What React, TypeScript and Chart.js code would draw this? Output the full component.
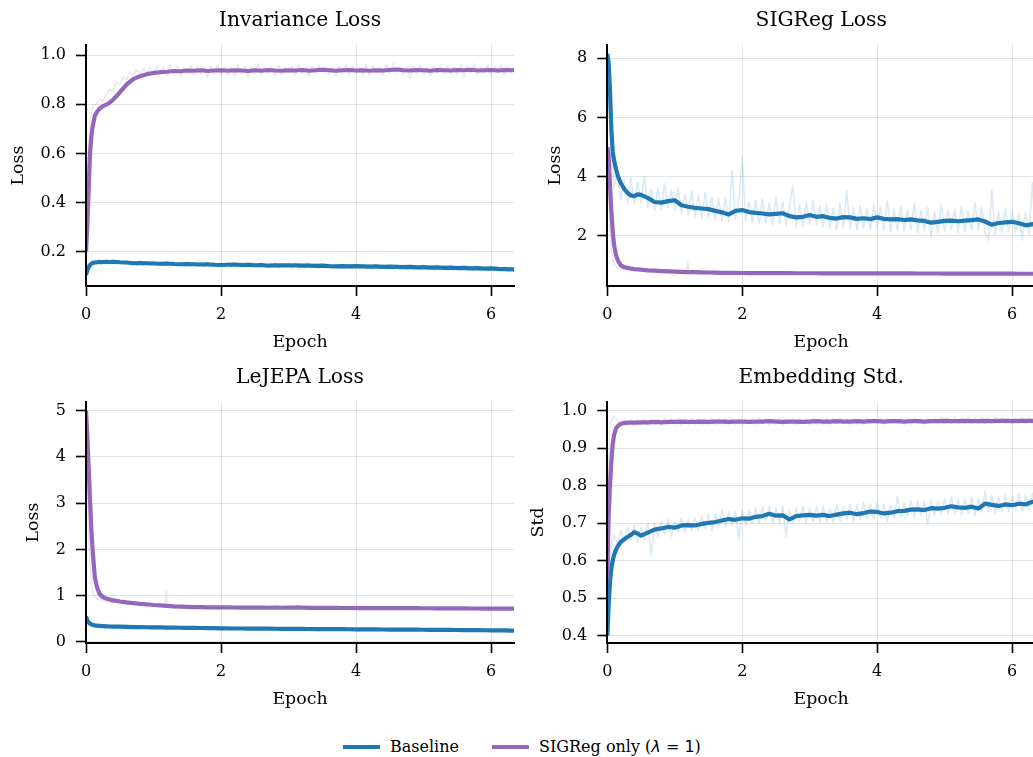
import { useEffect, useRef } from 'react';
import { Chart, registerables } from 'chart.js';

Chart.register(...registerables);

// ---------- colours / fonts ----------
const BLUE = '#1f77b4';
const PURPLE = '#9467bd';
const BLUE_RAW = 'rgba(31,119,180,0.16)';
const PURPLE_RAW = 'rgba(148,103,189,0.17)';
const GRID = 'rgba(160,170,185,0.32)';
const FONT = "'DejaVu Serif', serif";

// ---------- axes ----------
const X_TICKS = [0, 2, 4, 6];
const INV_TICKS = [0.2, 0.4, 0.6, 0.8, 1.0];
const SIG_TICKS = [2, 4, 6, 8];
const LEJ_TICKS = [0, 1, 2, 3, 4, 5];
const EMB_TICKS = [0.4, 0.5, 0.6, 0.7, 0.8, 0.9, 1.0];

// ---------- epochs ----------
// smoothed curves
const SX = [
  0, 0.02, 0.04, 0.06, 0.08, 0.1, 0.13, 0.16, 0.2, 0.25, 0.3, 0.35, 0.4, 0.45, 0.5,
  0.6, 0.7, 0.8, 0.9, 1.0,
  1.1, 1.2, 1.3, 1.4, 1.5, 1.6, 1.7, 1.8, 1.9, 2.0,
  2.1, 2.2, 2.3, 2.4, 2.5, 2.6, 2.7, 2.8, 2.9, 3.0,
  3.1, 3.2, 3.3, 3.4, 3.5, 3.6, 3.7, 3.8, 3.9, 4.0,
  4.1, 4.2, 4.3, 4.4, 4.5, 4.6, 4.7, 4.8, 4.9, 5.0,
  5.1, 5.2, 5.3, 5.4, 5.5, 5.6, 5.7, 5.8, 5.9, 6.0,
  6.1, 6.2, 6.3,
  6.34,
];
// raw (noisy) curves
const RX = [
  0, 0.02, 0.04, 0.06, 0.08, 0.1,
  0.15, 0.2, 0.25, 0.3, 0.35, 0.4, 0.45, 0.5, 0.55, 0.6, 0.65, 0.7, 0.75, 0.8, 0.85, 0.9, 0.95,
  1, 1.05, 1.1, 1.15, 1.2, 1.25, 1.3, 1.35, 1.4, 1.45, 1.5, 1.55, 1.6, 1.65, 1.7, 1.75, 1.8, 1.85, 1.9, 1.95,
  2, 2.05, 2.1, 2.15, 2.2, 2.25, 2.3, 2.35, 2.4, 2.45, 2.5, 2.55, 2.6, 2.65, 2.7, 2.75, 2.8, 2.85, 2.9, 2.95,
  3, 3.05, 3.1, 3.15, 3.2, 3.25, 3.3, 3.35, 3.4, 3.45, 3.5, 3.55, 3.6, 3.65, 3.7, 3.75, 3.8, 3.85, 3.9, 3.95,
  4, 4.05, 4.1, 4.15, 4.2, 4.25, 4.3, 4.35, 4.4, 4.45, 4.5, 4.55, 4.6, 4.65, 4.7, 4.75, 4.8, 4.85, 4.9, 4.95,
  5, 5.05, 5.1, 5.15, 5.2, 5.25, 5.3, 5.35, 5.4, 5.45, 5.5, 5.55, 5.6, 5.65, 5.7, 5.75, 5.8, 5.85, 5.9, 5.95,
  6, 6.05, 6.1, 6.15, 6.2, 6.25, 6.3,
  6.34,
];
// raw curves of the quiet series
const EX = [0, 0.02, 0.04, 0.06, 0.08, 0.1, 0.12, 0.15, 0.2, 0.25, 0.3, 0.4, 0.5, 0.7, 0.9, 1.1, 1.17, 1.19, 1.21, 1.3, 1.6, 2, 2.5, 3, 3.5, 4, 4.5, 5, 5.5, 6, 6.34];

// ---------- Invariance Loss ----------
const INV_SIG_S = [
  0.2, 0.31, 0.46, 0.6, 0.67, 0.71, 0.752, 0.767, 0.782, 0.792, 0.798, 0.806, 0.818, 0.832, 0.848,
  0.88, 0.902, 0.914, 0.922, 0.927,
  0.93, 0.932, 0.935, 0.934, 0.937, 0.936, 0.938, 0.935, 0.937, 0.938,
  0.936, 0.938, 0.937, 0.935, 0.938, 0.936, 0.939, 0.937, 0.936, 0.938,
  0.937, 0.939, 0.936, 0.938, 0.94, 0.938, 0.936, 0.938, 0.939, 0.937,
  0.938, 0.936, 0.938, 0.937, 0.939, 0.941, 0.938, 0.937, 0.939, 0.938,
  0.936, 0.939, 0.938, 0.937, 0.939, 0.938, 0.94, 0.937, 0.938, 0.939,
  0.937, 0.939, 0.938,
  0.939,
];
const INV_BASE_S = [
  0.105, 0.125, 0.138, 0.146, 0.151, 0.154, 0.156, 0.157, 0.158, 0.158, 0.159, 0.158, 0.159, 0.158, 0.157,
  0.156, 0.153, 0.154, 0.153, 0.152,
  0.151, 0.152, 0.15, 0.149, 0.15, 0.149, 0.148, 0.149, 0.147, 0.146,
  0.147, 0.148, 0.146, 0.147, 0.145, 0.146, 0.143, 0.145, 0.144, 0.145,
  0.144, 0.143, 0.144, 0.142, 0.143, 0.141, 0.14, 0.141, 0.14, 0.141,
  0.14, 0.139, 0.14, 0.138, 0.139, 0.138, 0.137, 0.138, 0.136, 0.137,
  0.135, 0.136, 0.134, 0.135, 0.133, 0.134, 0.132, 0.133, 0.131, 0.132,
  0.13, 0.129, 0.128,
  0.128,
];
const INV_SIG_R = [
  0.2, 0.45, 0.62, 0.72, 0.76, 0.79,
  0.8, 0.82, 0.81, 0.84, 0.86, 0.85, 0.89, 0.88, 0.91, 0.9, 0.93, 0.915, 0.94, 0.92, 0.945, 0.925, 0.95,
  0.92, 0.955, 0.925, 0.95, 0.92, 0.96, 0.925, 0.955, 0.915, 0.95, 0.925, 0.96, 0.92, 0.955, 0.925, 0.95, 0.91, 0.955, 0.925, 0.96,
  0.92, 0.955, 0.92, 0.95, 0.915, 0.96, 0.925, 0.955, 0.91, 0.95, 0.925, 0.965, 0.92, 0.95, 0.925, 0.955, 0.915, 0.96, 0.92, 0.95,
  0.925, 0.955, 0.92, 0.96, 0.925, 0.95, 0.915, 0.955, 0.925, 0.96, 0.93, 0.955, 0.92, 0.95, 0.915, 0.955, 0.925, 0.96, 0.92, 0.955,
  0.925, 0.95, 0.92, 0.96, 0.915, 0.955, 0.925, 0.95, 0.92, 0.96, 0.925, 0.965, 0.925, 0.955, 0.92, 0.95, 0.905, 0.955, 0.925, 0.96,
  0.92, 0.95, 0.915, 0.955, 0.925, 0.96, 0.92, 0.955, 0.925, 0.95, 0.92, 0.96, 0.91, 0.955, 0.925, 0.965, 0.92, 0.95, 0.925, 0.96,
  0.915, 0.955, 0.925, 0.96, 0.92, 0.955, 0.925,
  0.95,
];
const INV_BASE_R = [
  0.1, 0.14, 0.15, 0.155, 0.16, 0.165,
  0.15, 0.168, 0.152, 0.166, 0.15, 0.168, 0.15, 0.165, 0.148, 0.164, 0.146, 0.162, 0.146, 0.163, 0.145, 0.161, 0.144,
  0.162, 0.143, 0.16, 0.143, 0.161, 0.142, 0.159, 0.141, 0.158, 0.14, 0.159, 0.141, 0.157, 0.139, 0.158, 0.138, 0.157, 0.139, 0.156, 0.137,
  0.155, 0.138, 0.157, 0.137, 0.156, 0.138, 0.155, 0.136, 0.156, 0.135, 0.154, 0.136, 0.155, 0.134, 0.152, 0.135, 0.154, 0.134, 0.153, 0.135,
  0.154, 0.134, 0.153, 0.133, 0.152, 0.134, 0.153, 0.132, 0.151, 0.133, 0.152, 0.131, 0.15, 0.131, 0.149, 0.132, 0.15, 0.13, 0.149, 0.131,
  0.15, 0.13, 0.149, 0.13, 0.148, 0.13, 0.149, 0.128, 0.147, 0.129, 0.148, 0.128, 0.147, 0.128, 0.146, 0.127, 0.147, 0.127, 0.145, 0.126,
  0.146, 0.126, 0.144, 0.125, 0.145, 0.125, 0.143, 0.124, 0.144, 0.124, 0.142, 0.123, 0.143, 0.122, 0.141, 0.122, 0.142, 0.121, 0.14, 0.121,
  0.141, 0.12, 0.139, 0.12, 0.138, 0.119, 0.137,
  0.12,
];

// ---------- SIGReg Loss ----------
const SIG_BASE_S = [
  8.15, 7.85, 6.9, 5.6, 4.85, 4.55, 4.25, 4.0, 3.78, 3.58, 3.45, 3.36, 3.34, 3.4, 3.38,
  3.28, 3.14, 3.12, 3.17, 3.2,
  3.03, 2.98, 2.94, 2.92, 2.9, 2.84, 2.79, 2.72, 2.84, 2.87,
  2.8, 2.77, 2.75, 2.72, 2.74, 2.76, 2.66, 2.62, 2.64, 2.7,
  2.64, 2.66, 2.6, 2.58, 2.63, 2.62, 2.57, 2.59, 2.56, 2.62,
  2.57, 2.55, 2.56, 2.53, 2.55, 2.52, 2.5, 2.44, 2.47, 2.5,
  2.51, 2.49, 2.51, 2.53, 2.55, 2.48, 2.37, 2.43, 2.45, 2.47,
  2.42, 2.35, 2.39,
  2.38,
];
const SIG_SIG_S = [
  5.0, 4.7, 3.7, 2.85, 2.15, 1.7, 1.33, 1.15, 1.0, 0.94, 0.91, 0.89, 0.87, 0.86, 0.85,
  0.83, 0.82, 0.805, 0.795, 0.785,
  0.775, 0.77, 0.765, 0.76, 0.755, 0.75, 0.745, 0.742, 0.74, 0.738,
  0.737, 0.736, 0.735, 0.734, 0.733, 0.733, 0.732, 0.731, 0.731, 0.73,
  0.73, 0.729, 0.729, 0.728, 0.728, 0.727, 0.727, 0.726, 0.726, 0.725,
  0.725, 0.724, 0.724, 0.723, 0.723, 0.722, 0.722, 0.721, 0.721, 0.72,
  0.72, 0.719, 0.719, 0.718, 0.718, 0.717, 0.717, 0.716, 0.716, 0.715,
  0.714, 0.714, 0.713,
  0.713,
];
const SIG_BASE_R = [
  8.2, 7.2, 5.9, 4.3, 4.45, 3.6,
  4.1, 3.2, 3.9, 3.1, 3.95, 3.05, 3.8, 3.1, 4.0, 2.95, 3.55, 2.85, 3.6, 2.9, 3.75, 2.95, 3.55,
  2.9, 3.6, 2.75, 3.4, 2.7, 3.5, 2.65, 3.35, 2.6, 3.45, 2.6, 3.3, 2.55, 3.25, 2.5, 3.3, 2.45, 4.2, 2.55, 3.2,
  4.65, 2.5, 3.15, 2.45, 3.2, 2.4, 3.25, 2.45, 3.1, 2.35, 3.3, 2.4, 3.15, 2.35, 3.0, 3.7, 2.3, 3.05, 2.3, 3.1,
  2.4, 3.2, 2.35, 3.0, 2.3, 3.05, 2.25, 2.95, 2.2, 3.1, 2.3, 3.5, 2.25, 2.95, 2.2, 3.0, 2.25, 2.9, 2.2, 3.05,
  2.3, 2.95, 2.2, 3.2, 2.15, 2.9, 2.2, 3.0, 2.15, 2.85, 2.2, 3.1, 2.1, 2.85, 2.15, 2.95, 1.95, 2.8, 2.1, 3.05,
  2.15, 2.85, 2.2, 2.9, 2.1, 3.0, 2.15, 2.85, 2.2, 3.1, 2.2, 2.95, 2.1, 1.85, 3.55, 2.05, 2.8, 2.1, 2.9, 2.15,
  2.85, 2.1, 2.75, 1.85, 2.8, 2.05, 3.8,
  2.2,
];
const SIG_SIG_R = [5.0, 3.5, 2.2, 1.5, 1.2, 1.05, 0.97, 0.92, 0.88, 0.86, 0.85, 0.84, 0.83, 0.81, 0.79, 0.775, 0.77, 1.12, 0.77, 0.765, 0.75, 0.738, 0.733, 0.73, 0.728, 0.725, 0.722, 0.72, 0.718, 0.715, 0.713];

// ---------- LeJEPA Loss ----------
const LEJ_SIG_S = [
  5.0, 4.45, 3.75, 3.07, 2.4, 1.95, 1.41, 1.2, 1.04, 0.97, 0.94, 0.92, 0.9, 0.89, 0.875,
  0.855, 0.84, 0.825, 0.815, 0.8,
  0.79, 0.78, 0.77, 0.765, 0.76, 0.755, 0.752, 0.75, 0.748, 0.747,
  0.746, 0.745, 0.744, 0.743, 0.742, 0.741, 0.74, 0.741, 0.74, 0.742,
  0.746, 0.743, 0.739, 0.738, 0.737, 0.736, 0.736, 0.735, 0.735, 0.734,
  0.734, 0.733, 0.733, 0.732, 0.732, 0.731, 0.731, 0.73, 0.73, 0.729,
  0.729, 0.728, 0.727, 0.727, 0.726, 0.725, 0.724, 0.724, 0.723, 0.722,
  0.722, 0.721, 0.72,
  0.72,
];
const LEJ_BASE_S = [
  0.55, 0.47, 0.42, 0.395, 0.38, 0.37, 0.36, 0.352, 0.347, 0.342, 0.338, 0.335, 0.333, 0.331, 0.33,
  0.327, 0.322, 0.32, 0.318, 0.316,
  0.314, 0.312, 0.31, 0.308, 0.306, 0.304, 0.302, 0.3, 0.298, 0.296,
  0.294, 0.292, 0.291, 0.29, 0.289, 0.288, 0.287, 0.286, 0.285, 0.284,
  0.283, 0.282, 0.281, 0.28, 0.279, 0.278, 0.277, 0.276, 0.275, 0.274,
  0.273, 0.272, 0.271, 0.27, 0.269, 0.268, 0.267, 0.266, 0.265, 0.264,
  0.263, 0.262, 0.261, 0.26, 0.259, 0.258, 0.256, 0.255, 0.254, 0.252,
  0.25, 0.249, 0.247,
  0.246,
];
const LEJ_SIG_R = [5.0, 3.6, 2.4, 1.6, 1.25, 1.1, 1.0, 0.95, 0.92, 0.9, 0.88, 0.86, 0.85, 0.83, 0.81, 0.79, 0.785, 1.1, 0.785, 0.77, 0.755, 0.745, 0.742, 0.74, 0.737, 0.734, 0.732, 0.729, 0.726, 0.722, 0.72];
const LEJ_BASE_R = [0.55, 0.42, 0.38, 0.36, 0.35, 0.345, 0.34, 0.338, 0.336, 0.334, 0.332, 0.33, 0.328, 0.322, 0.318, 0.314, 0.313, 0.313, 0.312, 0.31, 0.305, 0.296, 0.289, 0.284, 0.279, 0.274, 0.269, 0.264, 0.259, 0.252, 0.246];

// ---------- Embedding Std. ----------
const EMB_SIG_S = [
  0.55, 0.72, 0.8, 0.865, 0.91, 0.935, 0.953, 0.96, 0.965, 0.967, 0.968, 0.968, 0.968, 0.968, 0.969,
  0.969, 0.97, 0.969, 0.97, 0.97,
  0.971, 0.97, 0.97, 0.971, 0.97, 0.971, 0.971, 0.97, 0.971, 0.971,
  0.97, 0.971, 0.971, 0.972, 0.971, 0.97, 0.971, 0.971, 0.97, 0.971,
  0.972, 0.971, 0.971, 0.972, 0.971, 0.971, 0.972, 0.971, 0.972, 0.972,
  0.971, 0.972, 0.972, 0.971, 0.972, 0.972, 0.971, 0.972, 0.972, 0.973,
  0.972, 0.972, 0.973, 0.972, 0.972, 0.973, 0.972, 0.973, 0.973, 0.972,
  0.973, 0.973, 0.973,
  0.973,
];
const EMB_BASE_S = [
  0.4, 0.48, 0.545, 0.578, 0.6, 0.615, 0.63, 0.64, 0.65, 0.657, 0.663, 0.669, 0.676, 0.672, 0.667,
  0.675, 0.683, 0.686, 0.69, 0.688,
  0.694, 0.695, 0.694, 0.698, 0.701, 0.703, 0.707, 0.711, 0.709, 0.713,
  0.712, 0.717, 0.719, 0.725, 0.72, 0.721, 0.71, 0.719, 0.721, 0.722,
  0.72, 0.722, 0.719, 0.723, 0.726, 0.728, 0.724, 0.727, 0.731, 0.73,
  0.726, 0.728, 0.732, 0.733, 0.736, 0.737, 0.735, 0.74, 0.739, 0.741,
  0.745, 0.742, 0.741, 0.744, 0.739, 0.752, 0.749, 0.746, 0.75, 0.748,
  0.752, 0.75, 0.757,
  0.755,
];
const EMB_SIG_R = [
  0.55, 0.88, 0.95, 0.975, 0.98, 0.985,
  0.975, 0.962, 0.976, 0.96, 0.977, 0.961, 0.978, 0.962, 0.977, 0.961, 0.978, 0.963, 0.977, 0.962, 0.979, 0.962, 0.978,
  0.963, 0.978, 0.962, 0.979, 0.963, 0.978, 0.962, 0.979, 0.963, 0.978, 0.962, 0.98, 0.963, 0.978, 0.963, 0.979, 0.962, 0.978, 0.964, 0.979,
  0.963, 0.978, 0.964, 0.979, 0.963, 0.98, 0.964, 0.979, 0.963, 0.978, 0.964, 0.98, 0.963, 0.979, 0.964, 0.978, 0.963, 0.98, 0.964, 0.979,
  0.963, 0.98, 0.964, 0.979, 0.964, 0.98, 0.963, 0.979, 0.965, 0.98, 0.964, 0.979, 0.963, 0.981, 0.964, 0.979, 0.965, 0.98, 0.964, 0.979,
  0.965, 0.98, 0.964, 0.981, 0.965, 0.979, 0.964, 0.98, 0.965, 0.981, 0.964, 0.98, 0.965, 0.979, 0.964, 0.981, 0.965, 0.98, 0.964, 0.981,
  0.965, 0.98, 0.966, 0.981, 0.965, 0.98, 0.966, 0.982, 0.965, 0.98, 0.966, 0.981, 0.965, 0.98, 0.966, 0.982, 0.965, 0.981, 0.966, 0.98,
  0.965, 0.981, 0.966, 0.982, 0.965, 0.981, 0.966,
  0.98,
];
const EMB_BASE_R = [
  0.4, 0.55, 0.62, 0.64, 0.66, 0.67,
  0.645, 0.68, 0.65, 0.69, 0.655, 0.695, 0.65, 0.69, 0.655, 0.7, 0.615, 0.7, 0.665, 0.705, 0.67, 0.71, 0.665,
  0.705, 0.675, 0.715, 0.675, 0.71, 0.68, 0.715, 0.68, 0.72, 0.685, 0.725, 0.68, 0.725, 0.69, 0.735, 0.69, 0.73, 0.695, 0.73, 0.66,
  0.735, 0.695, 0.735, 0.7, 0.74, 0.7, 0.745, 0.705, 0.745, 0.7, 0.74, 0.7, 0.745, 0.665, 0.735, 0.7, 0.74, 0.705, 0.745, 0.7,
  0.74, 0.705, 0.745, 0.7, 0.745, 0.705, 0.74, 0.7, 0.75, 0.705, 0.745, 0.71, 0.75, 0.705, 0.75, 0.71, 0.755, 0.71, 0.75, 0.71,
  0.755, 0.715, 0.75, 0.705, 0.75, 0.715, 0.77, 0.715, 0.755, 0.72, 0.76, 0.715, 0.76, 0.72, 0.76, 0.695, 0.765, 0.72, 0.76, 0.725,
  0.765, 0.725, 0.77, 0.725, 0.765, 0.72, 0.765, 0.725, 0.77, 0.72, 0.765, 0.73, 0.785, 0.73, 0.775, 0.725, 0.77, 0.73, 0.775, 0.73,
  0.77, 0.735, 0.78, 0.73, 0.775, 0.735, 0.78,
  0.74,
];

// ---------- panels ----------
type Series = [number[], number[]];
interface Panel {
  title: string; yLabel: string; yMin: number; yMax: number; yTicks: number[]; dec: number;
  left: number; top: number; width: number; yAxisWidth: number; rightPad: number; yTitlePad: number;
  baseS: Series; sigS: Series; baseR: Series; sigR: Series;
}
const W_L = 517, W_R = 520, H = 357, X_MAX = 6.34;

const PANELS: Panel[] = [
  { title: 'Invariance Loss', yLabel: 'Loss', yMin: 0.0605, yMax: 1.0407, yTicks: INV_TICKS, dec: 1,
    left: 0, top: 0, width: W_L, yAxisWidth: 86, rightPad: 3, yTitlePad: 7.9,
    baseS: [SX, INV_BASE_S], sigS: [SX, INV_SIG_S], baseR: [RX, INV_BASE_R], sigR: [RX, INV_SIG_R] },
  { title: 'SIGReg Loss', yLabel: 'Loss', yMin: 0.299, yMax: 8.45, yTicks: SIG_TICKS, dec: 0,
    left: 520, top: 0, width: W_R, yAxisWidth: 87.3, rightPad: 5, yTitlePad: 24.6,
    baseS: [SX, SIG_BASE_S], sigS: [SX, SIG_SIG_S], baseR: [RX, SIG_BASE_R], sigR: [EX, SIG_SIG_R] },
  { title: 'LeJEPA Loss', yLabel: 'Loss', yMin: -0.022, yMax: 5.188, yTicks: LEJ_TICKS, dec: 0,
    left: 0, top: 357, width: W_L, yAxisWidth: 86, rightPad: 3, yTitlePad: 23.3,
    baseS: [SX, LEJ_BASE_S], sigS: [SX, LEJ_SIG_S], baseR: [EX, LEJ_BASE_R], sigR: [EX, LEJ_SIG_R] },
  { title: 'Embedding Std.', yLabel: 'Std', yMin: 0.3805, yMax: 1.0232, yTicks: EMB_TICKS, dec: 1,
    left: 520, top: 357, width: W_R, yAxisWidth: 87.3, rightPad: 5, yTitlePad: 8.4,
    baseS: [SX, EMB_BASE_S], sigS: [SX, EMB_SIG_S], baseR: [RX, EMB_BASE_R], sigR: [RX, EMB_SIG_R] },
];

const pts = (s: Series) => {
  const n = Math.min(s[0].length, s[1].length);
  const out: { x: number; y: number }[] = [];
  for (let i = 0; i < n; i++) out.push({ x: s[0][i], y: s[1][i] });
  return out;
};

function buildConfig(p: Panel): any {
  const tickFont = { family: FONT, size: 16 };
  const labelFont = { family: FONT, size: 17.4 };
  const common = { pointRadius: 0, pointHoverRadius: 0, tension: 0, fill: false, borderJoinStyle: 'round', borderCapStyle: 'butt' };
  return {
    type: 'line',
    data: {
      datasets: [
        { ...common, data: pts(p.sigS), borderColor: PURPLE, borderWidth: 4.2, order: 1 },
        { ...common, data: pts(p.baseS), borderColor: BLUE, borderWidth: 4.2, order: 2 },
        { ...common, data: pts(p.sigR), borderColor: PURPLE_RAW, borderWidth: 1.6, order: 3 },
        { ...common, data: pts(p.baseR), borderColor: BLUE_RAW, borderWidth: 1.6, order: 4 },
      ],
    },
    options: {
      animation: false,
      responsive: false,
      maintainAspectRatio: false,
      events: [],
      layout: { padding: { left: 0, right: p.rightPad, top: 0, bottom: 0 } },
      plugins: {
        legend: { display: false },
        tooltip: { enabled: false },
        title: {
          display: true, text: p.title, fullSize: false, color: '#000',
          font: { family: FONT, size: 20.3, weight: 'normal', lineHeight: 1.2 },
          padding: { top: 9, bottom: 11.64 },
        },
      },
      scales: {
        x: {
          type: 'linear', min: 0, max: X_MAX,
          afterBuildTicks: (s: any) => { s.ticks = X_TICKS.map((v) => ({ value: v })); },
          afterFit: (s: any) => { s.height = 71; },
          grid: { color: GRID, lineWidth: 1, tickColor: '#000', tickLength: 10, tickWidth: 1.6 },
          border: { display: true, color: '#000', width: 2, z: 1 },
          ticks: { color: '#000', font: tickFont, padding: 9, maxRotation: 0, autoSkip: false, callback: (v: number) => String(v) },
          title: { display: true, text: 'Epoch', color: '#000', font: labelFont, padding: { top: 0, bottom: 3.8 } },
        },
        y: {
          type: 'linear', min: p.yMin, max: p.yMax,
          afterBuildTicks: (s: any) => { s.ticks = p.yTicks.map((v) => ({ value: v })); },
          afterFit: (s: any) => { s.width = p.yAxisWidth; },
          grid: { color: GRID, lineWidth: 1, tickColor: '#000', tickLength: 10, tickWidth: 1.6 },
          border: { display: true, color: '#000', width: 2, z: 1 },
          ticks: { color: '#000', font: tickFont, padding: 10, autoSkip: false, callback: (v: number) => v.toFixed(p.dec) },
          title: { display: true, text: p.yLabel, color: '#000', font: labelFont, padding: { top: p.yTitlePad, bottom: 0 } },
        },
      },
    },
  };
}

export default function App() {
  const canvases = useRef<(HTMLCanvasElement | null)[]>([]);

  useEffect(() => {
    const charts = PANELS.map((p, i) => new Chart(canvases.current[i] as HTMLCanvasElement, buildConfig(p)));
    return () => charts.forEach((c) => c.destroy());
  }, []);

  return (
    <div style={{ position: 'fixed', left: 0, top: 0, width: 1033, height: 757, overflow: 'hidden', background: '#fff' }}>
      {PANELS.map((p, i) => (
        <canvas
          key={p.title}
          ref={(el) => { canvases.current[i] = el; }}
          width={p.width}
          height={H}
          style={{ position: 'absolute', left: p.left, top: p.top, width: p.width, height: H }}
        />
      ))}
      <div style={{ position: 'absolute', left: 0, top: 737, width: 1033, height: 20, fontFamily: FONT, fontSize: 16, lineHeight: '20px', color: '#000' }}>
        <div style={{ position: 'absolute', left: 343, top: 8, width: 37, height: 4, background: BLUE }} />
        <span style={{ position: 'absolute', left: 390, top: 0, whiteSpace: 'nowrap' }}>Baseline</span>
        <div style={{ position: 'absolute', left: 492, top: 8, width: 37, height: 4, background: PURPLE }} />
        <span style={{ position: 'absolute', left: 539, top: 0, whiteSpace: 'nowrap' }}>
          SIGReg only (<span style={{ fontFamily: "'DejaVu Sans', sans-serif", fontStyle: 'italic' }}>λ</span>
          <span style={{ fontFamily: "'DejaVu Sans', sans-serif" }}> = 1</span>)
        </span>
      </div>
    </div>
  );
}
